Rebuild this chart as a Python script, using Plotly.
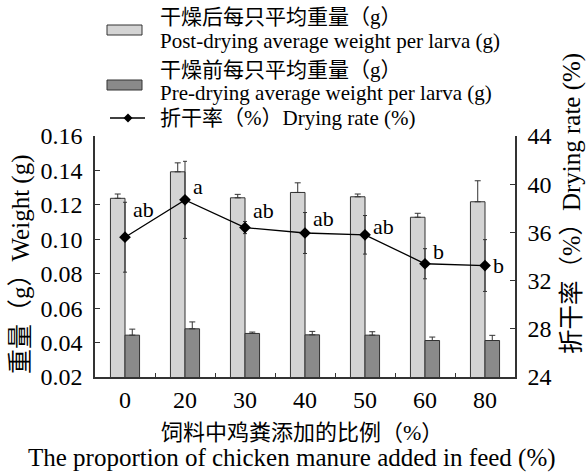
import plotly.graph_objects as go

# Chicken manure proportion in feed (%)
categories = ["0", "20", "30", "40", "50", "60", "80"]

# Average weight per larva after drying (g) and its error
post_weight = [0.1238, 0.1392, 0.1241, 0.1272, 0.1247, 0.1128, 0.1218]
post_err = [0.0025, 0.0052, 0.0020, 0.0056, 0.0016, 0.0023, 0.0122]

# Average weight per larva before drying (g) and its error
pre_weight = [0.0443, 0.0480, 0.0453, 0.0445, 0.0443, 0.0412, 0.0412]
pre_err = [0.0035, 0.0040, 0.0008, 0.0020, 0.0020, 0.0020, 0.0030]

# Drying rate (%) and its error
drying_rate = [35.6, 38.7, 36.4, 35.95, 35.8, 33.4, 33.25]
drying_err = [2.9, 3.2, 0.5, 1.7, 1.6, 1.25, 2.15]

# Significance letters and where they sit (drying-rate units)
sig_letters = ["ab", "a", "ab", "ab", "ab", "b", "b"]
sig_y = [37.9, 39.8, 37.8, 37.15, 36.45, 34.4, 33.25]

W, H = 587, 474
L, R, T, B = 95, 515, 136, 377  # plot area in pixels

SERIF = "Liberation Serif, Noto Sans CJK SC, serif"
LIGHT = "#d4d4d4"
DARK = "#8a8a8a"
EDGE = "#333333"


def px(x):
    return (x - L) / (R - L)


def py(y):
    return (B - y) / (B - T)


fig = go.Figure()

fig.add_trace(go.Bar(
    x=categories, y=post_weight, name="Post-drying",
    marker=dict(color=LIGHT, line=dict(color=EDGE, width=1)),
    error_y=dict(type="data", symmetric=False, array=post_err,
                 arrayminus=[0] * len(post_err), color=EDGE,
                 thickness=1, width=3),
    showlegend=False,
))
fig.add_trace(go.Bar(
    x=categories, y=pre_weight, name="Pre-drying",
    marker=dict(color=DARK, line=dict(color=EDGE, width=1)),
    error_y=dict(type="data", symmetric=False, array=pre_err,
                 arrayminus=[0] * len(pre_err), color=EDGE,
                 thickness=1, width=3),
    showlegend=False,
))
fig.add_trace(go.Scatter(
    x=categories, y=drying_rate, yaxis="y2", mode="lines+markers",
    name="Drying rate",
    line=dict(color="black", width=1.3),
    marker=dict(symbol="diamond", size=9, color="black"),
    error_y=dict(type="data", array=drying_err, color=EDGE,
                 thickness=1, width=2),
    showlegend=False,
))

annotations = []
# category axis positions are the serial index of each category
for i, (lab, yv) in enumerate(zip(sig_letters, sig_y)):
    annotations.append(dict(
        x=i, y=yv, xref="x", yref="y2", text=lab, showarrow=False,
        xanchor="left", yanchor="middle", xshift=6,
        font=dict(family=SERIF, size=22, color="black"),
    ))

# Axis titles
annotations.append(dict(
    x=px(21), y=py(264), xref="paper", yref="paper", textangle=-90,
    showarrow=False, xanchor="center", yanchor="middle",
    text="<span style='font-size:25px'>重量（g）</span>Weight (g)",
    font=dict(family=SERIF, size=25, color="black"),
))
annotations.append(dict(
    x=px(572), y=py(204), xref="paper", yref="paper", textangle=-90,
    showarrow=False, xanchor="center", yanchor="middle",
    text="<span style='font-size:24.5px'>折干率（%）</span>Drying rate (%)",
    font=dict(family=SERIF, size=25, color="black"),
))
annotations.append(dict(
    x=px(302), y=py(432), xref="paper", yref="paper", showarrow=False,
    xanchor="center", yanchor="middle", text="饲料中鸡粪添加的比例（%）",
    font=dict(family=SERIF, size=22, color="black"),
))
annotations.append(dict(
    x=px(292), y=py(458), xref="paper", yref="paper", showarrow=False,
    xanchor="center", yanchor="middle",
    text="The proportion of chicken manure added in feed (%)",
    font=dict(family=SERIF, size=25, color="black"),
))

# Legend block
legend_rows = [
    (17, "干燥后每只平均重量（g）"),
    (41, "Post-drying average weight per larva (g)"),
    (70, "干燥前每只平均重量（g）"),
    (93, "Pre-drying average weight per larva (g)"),
    (118, "折干率（%）Drying rate (%)"),
]
for yy, txt in legend_rows:
    annotations.append(dict(
        x=px(158), y=py(yy), xref="paper", yref="paper", showarrow=False,
        xanchor="left", yanchor="middle", text=txt,
        font=dict(family=SERIF, size=21, color="black"),
    ))

shapes = [
    dict(type="rect", xref="paper", yref="paper",
         x0=px(107), x1=px(142), y0=py(35), y1=py(25),
         fillcolor=LIGHT, line=dict(color=EDGE, width=1)),
    dict(type="rect", xref="paper", yref="paper",
         x0=px(107), x1=px(142), y0=py(90), y1=py(80),
         fillcolor=DARK, line=dict(color=EDGE, width=1)),
    dict(type="line", xref="paper", yref="paper",
         x0=px(110), x1=px(145), y0=py(118), y1=py(118),
         line=dict(color="black", width=1.3)),
]
cx, cy, d = 128, 118, 4.5
diamond = "M{},{} L{},{} L{},{} L{},{} Z".format(
    px(cx), py(cy - d), px(cx + d), py(cy), px(cx), py(cy + d),
    px(cx - d), py(cy))
shapes.append(dict(type="path", xref="paper", yref="paper", path=diamond,
                   fillcolor="black", line=dict(color="black", width=0)))

fig.update_layout(
    width=W, height=H,
    margin=dict(l=L, r=W - R, t=T, b=H - B, pad=0),
    paper_bgcolor="white", plot_bgcolor="white",
    barmode="group", bargap=0.515, bargroupgap=0,
    font=dict(family=SERIF, size=24, color="black"),
    xaxis=dict(
        type="category", showline=True, linecolor=EDGE, linewidth=1.5,
        ticks="inside", tickson="boundaries", ticklen=4, tickcolor=EDGE,
        tickfont=dict(family=SERIF, size=24), showgrid=False, zeroline=False,
    ),
    yaxis=dict(
        range=[0.02, 0.16], dtick=0.02, tickformat=".2f",
        showline=True, linecolor=EDGE, linewidth=1.5,
        ticks="inside", ticklen=5, tickcolor=EDGE, ticklabelstandoff=6,
        tickfont=dict(family=SERIF, size=24), showgrid=False, zeroline=False,
    ),
    yaxis2=dict(
        range=[24, 44], dtick=4, overlaying="y", side="right",
        showline=True, linecolor=EDGE, linewidth=1.5,
        ticks="inside", ticklen=5, tickcolor=EDGE, ticklabelstandoff=6,
        tickfont=dict(family=SERIF, size=24), showgrid=False, zeroline=False,
    ),
    annotations=annotations,
    shapes=shapes,
)

fig.write_html("out.html")
